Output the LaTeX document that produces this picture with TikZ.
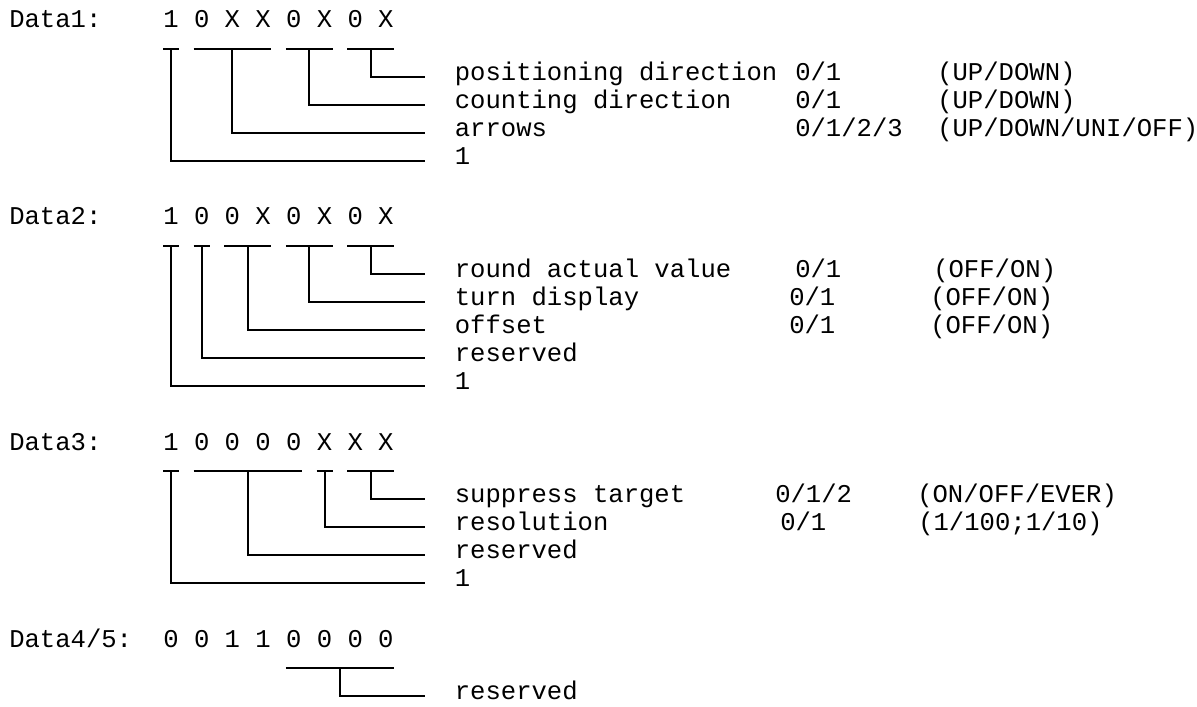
\documentclass[tikz,border=0pt]{standalone}
\usepackage{fontspec}
\newfontfamily\monofont{Liberation Mono}

\begin{document}
\begin{tikzpicture}[x=0.25mm, y=-0.25mm,
		txt/.style={font=\monofont\fontsize{18.2pt}{22pt}\selectfont, inner sep=0pt},
		head/.style={txt, anchor=base west},
		bit/.style={txt, anchor=base},
		lbl/.style={txt, anchor=west, inner xsep=7.4mm, text height=0.75em, text depth=0.21em},
		val/.style={txt, anchor=west, text height=0.75em, text depth=0.21em},
		wire/.style={line width=0.5mm}]
		\useasboundingbox (0,0) rectangle (1197,707);
		
		% Data1 byte
		\node[head] (d1) at (9,28) {Data1:};
		\foreach \v [count=\i] in {1,0,X,X,0,X,0,X}
			\node[bit] (d1b\i) at ({171+30.7*(\i-1)},28) {\v};
		\node[lbl] (d1l1) at (425,77) {positioning direction};
		\node[lbl] (d1l2) at (425,105) {counting direction};
		\node[lbl] (d1l3) at (425,133) {arrows};
		\node[lbl] (d1l4) at (425,161) {1};
		\node[val] (d1v1) at (795,77) {0/1};
		\node[val] (d1v2) at (795,105) {0/1};
		\node[val] (d1v3) at (795,133) {0/1/2/3};
		\node[val] (d1r1) at (937,77) {(UP/DOWN)};
		\node[val] (d1r2) at (937,105) {(UP/DOWN)};
		\node[val] (d1r3) at (937,133) {(UP/DOWN/UNI/OFF)};
		\foreach \a/\b in {163/179, 193.7/271.1, 285.8/332.5, 347.2/393.9}
			\draw[wire] (\a,49) -- (\b,49);
		\foreach \x/\n in {370.6/1, 309.2/2, 232.4/3, 171/4}
			\draw[wire] (\x,49) |- (d1l\n.west);
		
		% Data2 byte
		\node[head] (d2) at (9,225) {Data2:};
		\foreach \v [count=\i] in {1,0,0,X,0,X,0,X}
			\node[bit] (d2b\i) at ({171+30.7*(\i-1)},225) {\v};
		\node[lbl] (d2l1) at (425,274) {round actual value};
		\node[lbl] (d2l2) at (425,302) {turn display};
		\node[lbl] (d2l3) at (425,330) {offset};
		\node[lbl] (d2l4) at (425,358) {reserved};
		\node[lbl] (d2l5) at (425,386) {1};
		\node[val] (d2v1) at (795,274) {0/1};
		\node[val] (d2v2) at (789,302) {0/1};
		\node[val] (d2v3) at (789,330) {0/1};
		\node[val] (d2r1) at (933,274) {(OFF/ON)};
		\node[val] (d2r2) at (930,302) {(OFF/ON)};
		\node[val] (d2r3) at (930,330) {(OFF/ON)};
		\foreach \a/\b in {163/179, 193.7/209.7, 224.4/271.1, 285.8/332.5, 347.2/393.9}
			\draw[wire] (\a,246) -- (\b,246);
		\foreach \x/\n in {370.6/1, 309.2/2, 247.8/3, 201.7/4, 171/5}
			\draw[wire] (\x,246) |- (d2l\n.west);
		
		% Data3 byte
		\node[head] (d3) at (9,450) {Data3:};
		\foreach \v [count=\i] in {1,0,0,0,0,X,X,X}
			\node[bit] (d3b\i) at ({171+30.7*(\i-1)},450) {\v};
		\node[lbl] (d3l1) at (425,499) {suppress target};
		\node[lbl] (d3l2) at (425,527) {resolution};
		\node[lbl] (d3l3) at (425,555) {reserved};
		\node[lbl] (d3l4) at (425,583) {1};
		\node[val] (d3v1) at (775,499) {0/1/2};
		\node[val] (d3v2) at (780,527) {0/1};
		\node[val] (d3r1) at (917,499) {(ON/OFF/EVER)};
		\node[val] (d3r2) at (918,527) {(1/100;1/10)};
		\foreach \a/\b in {163/179, 193.7/301.8, 316.5/332.5, 347.2/393.9}
			\draw[wire] (\a,471) -- (\b,471);
		\foreach \x/\n in {370.6/1, 324.5/2, 247.8/3, 171/4}
			\draw[wire] (\x,471) |- (d3l\n.west);
		
		% Data4/5 bytes
		\node[head] (d4) at (9,647) {Data4/5:};
		\foreach \v [count=\i] in {0,0,1,1,0,0,0,0}
			\node[bit] (d4b\i) at ({171+30.7*(\i-1)},647) {\v};
		\node[lbl] (d4l1) at (425,696) {reserved};
		\draw[wire] (285.8,668) -- (393.9,668);
		\draw[wire] (339.9,668) |- (d4l1.west);
		
	\end{tikzpicture}
\end{document}
